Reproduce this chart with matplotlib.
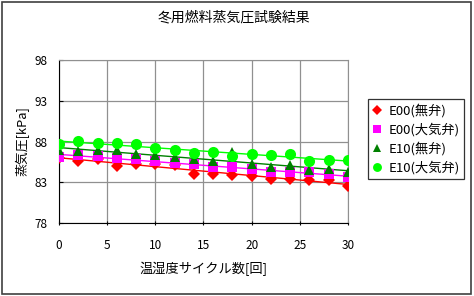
import numpy as np
import matplotlib
matplotlib.use("Agg")
import matplotlib.pyplot as plt
from matplotlib.patches import Rectangle

plt.rcParams['font.family'] = ['Noto Sans CJK JP', 'DejaVu Sans']

# 温湿度サイクル数
cycles = [0, 2, 4, 6, 8, 10, 12, 14, 16, 18, 20, 22, 24, 26, 28, 30]

e00_nashi = [86.0, 85.6, 85.9, 85.0, 85.3, 85.3, 85.1, 84.0, 84.0, 83.9, 83.75, 83.4, 83.4, 83.3, 83.3, 82.6]
e00_taiki = [86.05, 86.3, 86.2, 86.0, 85.8, 85.6, 85.4, 85.2, 84.9, 84.9, 84.6, 84.25, 84.25, 84.25, 84.0, 83.6]
e10_nashi = [87.0, 86.85, 86.95, 86.9, 86.5, 86.3, 86.1, 85.9, 85.6, 86.7, 85.2, 84.9, 85.1, 84.5, 84.6, 84.25]
e10_taiki = [87.65, 88.05, 87.85, 87.85, 87.65, 87.2, 86.95, 86.65, 86.75, 86.25, 86.5, 86.3, 86.5, 85.6, 85.75, 85.7]

labels = ['E00(無弁)', 'E00(大気弁)', 'E10(無弁)', 'E10(大気弁)']
yticks = [78, 83, 88, 93, 98]
xticks = [0, 5, 10, 15, 20, 25, 30]

series = [
    (e00_nashi, '#FF0000', 'D', 6.0),
    (e00_taiki, '#FF00FF', 's', 7.0),
    (e10_nashi, '#008000', '^', 7.5),
    (e10_taiki, '#00FF00', 'o', 8.0),
]

fig = plt.figure(figsize=(4.74, 2.96), dpi=100)
fig.patches.append(Rectangle((0.004, 0.008), 0.990, 0.985, transform=fig.transFigure,
                             fill=False, edgecolor='#404040', linewidth=1.2))
ax = fig.add_axes([0.1245, 0.2466, 0.6095, 0.5507])

x = np.array(cycles)
for (vals, color, marker, ms), label in zip(series, labels):
    coef = np.polyfit(x, vals, 1)
    ax.plot([0, 30], np.polyval(coef, [0, 30]), color=color, linewidth=1.0, zorder=2)
    ax.plot(x, vals, linestyle='none', marker=marker, color=color, markersize=ms,
            markeredgewidth=0, label=label, zorder=3)

ax.set_xlim(0, 30)
ax.set_ylim(78, 98)
ax.set_xticks(xticks)
ax.set_yticks(yticks)
ax.grid(True, color='#909090', linewidth=0.9)
ax.set_axisbelow(True)
for side in ['top', 'right']:
    ax.spines[side].set_color('#909090')
for side in ['left', 'bottom']:
    ax.spines[side].set_color('#000000')
ax.tick_params(axis='both', labelsize=8.5, length=3, color='#000000', pad=10)
ax.tick_params(axis='x', direction='inout')
ax.tick_params(axis='y', direction='in', pad=8)

fig.text(0.494, 0.94, '冬用燃料蒸気圧試験結果', fontsize=10, ha='center', va='center')
ax.set_xlabel('温湿度サイクル数[回]', fontsize=9.5, labelpad=7)
ax.set_ylabel('蒸気圧[kPa]', fontsize=9.3, labelpad=4)

leg = ax.legend(loc='upper left', bbox_to_anchor=(1.069, 0.761), fontsize=9.5,
                frameon=True, fancybox=False, edgecolor='#000000',
                handlelength=0.7, handletextpad=0.5, borderpad=0.35,
                labelspacing=0.4, borderaxespad=0, markerscale=0.8)
leg.get_frame().set_linewidth(0.9)

fig.savefig('out.png', dpi=100)
